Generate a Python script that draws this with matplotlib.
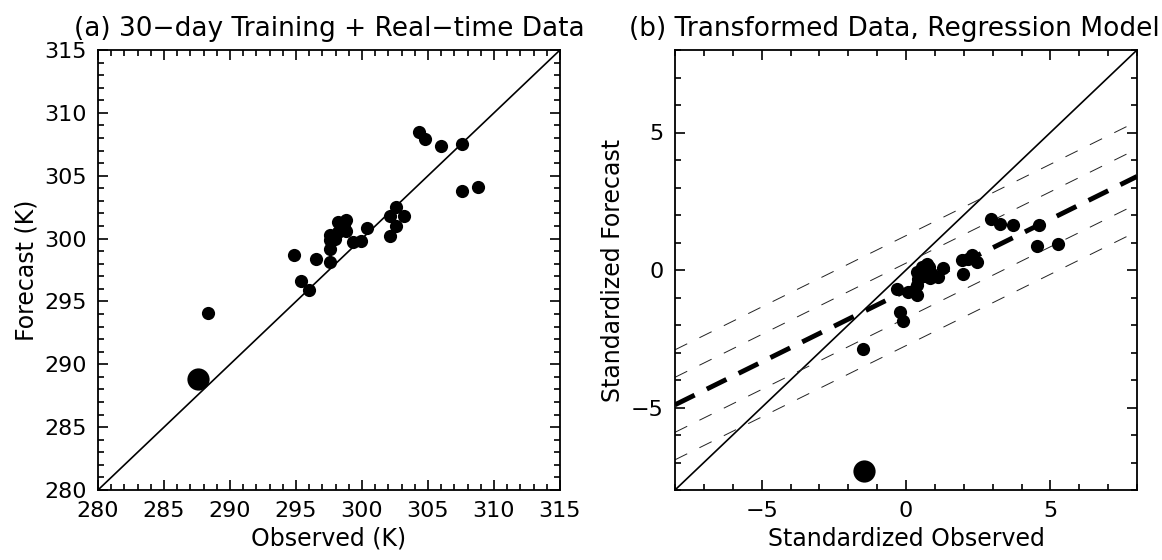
import matplotlib
matplotlib.use('Agg')
import matplotlib.pyplot as plt
import numpy as np
from matplotlib.ticker import MultipleLocator

# panel (a): raw observed / forecast temperatures (K)
obs_a = [304.3, 304.8, 306.0, 307.6, 307.6, 308.8, 302.6, 302.1, 303.2, 302.6,
         302.1, 300.4, 299.9, 299.3, 298.8, 298.2, 298.6, 298.8, 298.2, 297.6,
         297.6, 297.95, 297.6, 296.5, 294.85, 297.6, 295.35, 296.0, 288.3]
fcst_a = [308.5, 307.9, 307.4, 307.5, 303.8, 304.1, 302.5, 301.8, 301.8, 301.0,
          300.2, 300.85, 299.8, 299.7, 301.5, 301.3, 301.1, 300.6, 300.5, 300.3,
          299.9, 300.0, 299.2, 298.4, 298.7, 298.1, 296.6, 295.9, 294.1]
realtime_a = (287.6, 288.8)

# panel (b): standardized data
obs_b = [2.93, 3.24, 3.72, 4.6, 4.53, 5.25, 1.96, 2.16, 1.93, 2.45, 2.28,
         1.29, 1.12, 0.83, 0.72, 0.54, 0.37, 0.43, 0.37, 0.77, 0.89, 0.62, 0.8,
         -0.32, 0.08, 0.37, -0.21, -0.09, -1.48]
fcst_b = [1.84, 1.68, 1.64, 1.65, 0.87, 0.93, -0.14, 0.41, 0.35, 0.29, 0.53,
          0.07, -0.26, -0.3, 0.23, 0.1, -0.08, -0.32, -0.56, -0.02, -0.14, -0.2, 0.12,
          -0.68, -0.81, -0.9, -1.51, -1.84, -2.89]
realtime_b = (-1.45, -7.3)
slope, intercept = 0.519, -0.75
band_offsets = [-2.0, -1.0, 1.0, 2.0]

plt.rcParams['font.family'] = 'DejaVu Sans'

fig = plt.figure(figsize=(11.62, 5.6), dpi=100)
W, H = 1162.0, 560.0
ax1 = fig.add_axes([98 / W, 1 - 490 / H, 462 / W, 440 / H])
ax2 = fig.add_axes([675 / W, 1 - 490 / H, 462 / W, 440 / H])


def style(ax):
    for s in ax.spines.values():
        s.set_linewidth(1.3)
    ax.tick_params(which='both', direction='in', top=True, right=True,
                   width=1.2, labelsize=16)
    ax.tick_params(which='major', length=7, pad=8)
    ax.tick_params(which='minor', length=4)
    ax.xaxis.set_major_locator(MultipleLocator(5))
    ax.yaxis.set_major_locator(MultipleLocator(5))
    ax.xaxis.set_minor_locator(MultipleLocator(1))
    ax.yaxis.set_minor_locator(MultipleLocator(1))


# (a)
lim_a = [280, 315]
ax1.plot(lim_a, lim_a, color='black', lw=1.2)
ax1.plot(obs_a, fcst_a, 'o', color='black', ms=9.5, mec='none')
ax1.plot(*realtime_a, 'o', color='black', ms=16, mec='none')
ax1.set_xlim(lim_a)
ax1.set_ylim(lim_a)
ax1.set_xlabel('Observed (K)', fontsize=17)
ax1.set_ylabel('Forecast (K)', fontsize=17)
ax1.set_title('(a) 30\u2212day Training + Real\u2212time Data', fontsize=19, pad=10)
style(ax1)

# (b)
lim_b = np.array([-8, 8])
ax2.plot(lim_b, lim_b, color='black', lw=1.2)
for off in band_offsets:
    ax2.plot(lim_b, slope * lim_b + intercept + off, color='#222222', lw=0.7,
             dashes=(14, 14))
ax2.plot(lim_b, slope * lim_b + intercept, color='black', lw=3.5, dashes=(4.5, 2.8))
ax2.plot(obs_b, fcst_b, 'o', color='black', ms=9.5, mec='none')
ax2.plot(*realtime_b, 'o', color='black', ms=16, mec='none')
ax2.set_xlim(lim_b)
ax2.set_ylim(lim_b)
ax2.set_xlabel('Standardized Observed', fontsize=17)
ax2.set_ylabel('Standardized Forecast', fontsize=17)
ax2.set_title('(b) Transformed Data, Regression Model', fontsize=19, pad=10,
              loc='right', x=1.05)
style(ax2)

fig.savefig('out.png', dpi=100)
